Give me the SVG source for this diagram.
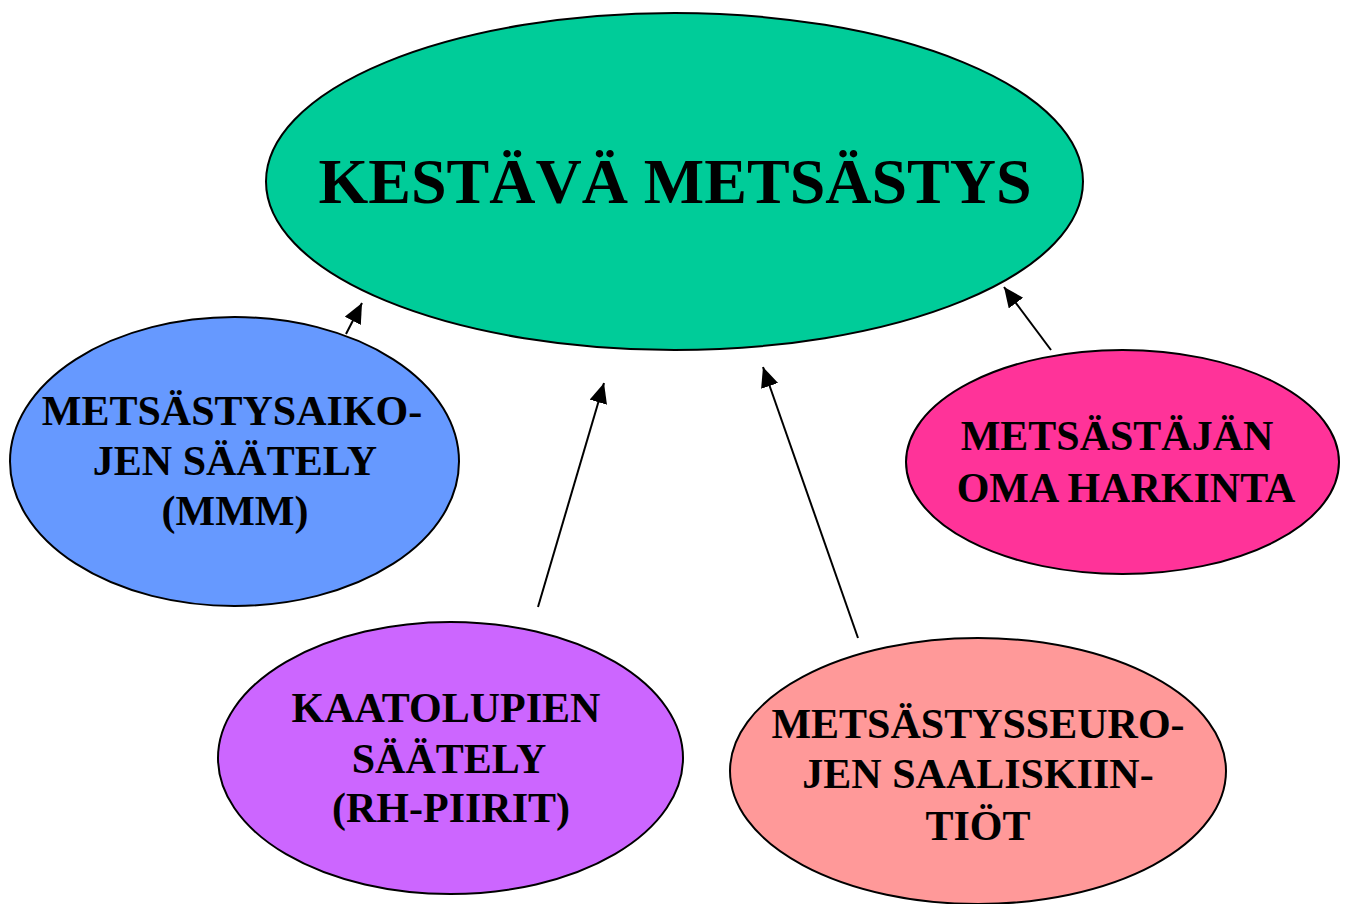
<svg xmlns="http://www.w3.org/2000/svg" width="1346" height="904" viewBox="0 0 1346 904">
<style>
.n{stroke:#000;stroke-width:2}
.t{font-family:"Liberation Serif","Times New Roman",serif;font-weight:bold;font-size:42px;fill:#000;text-anchor:middle}
.big{font-size:64px}
.c{stroke:#000;stroke-width:2;fill:none;marker-end:url(#ah)}
</style>
<defs>
<marker id="ah" markerUnits="userSpaceOnUse" markerWidth="22" markerHeight="20" refX="20" refY="9" orient="auto">
<path d="M0,0 L20,9 L0,18 Z" fill="#000"/>
</marker>
</defs>
<rect width="1346" height="904" fill="#fff"/>
<g id="main">
<ellipse class="n" cx="674.5" cy="181.5" rx="408.5" ry="168.5" fill="#00CC99"/>
<text class="t big" x="675" y="203">KESTÄVÄ METSÄSTYS</text>
</g>
<g id="mmm">
<ellipse class="n" cx="234.5" cy="461.5" rx="224.5" ry="144.5" fill="#6699FF"/>
<text class="t" x="232" y="425">METSÄSTYSAIKO-</text>
<text class="t" x="235" y="475">JEN SÄÄTELY</text>
<text class="t" x="235" y="525">(MMM)</text>
</g>
<g id="rh">
<ellipse class="n" cx="450.5" cy="758" rx="232.5" ry="136" fill="#CC66FF"/>
<text class="t" x="446" y="722">KAATOLUPIEN</text>
<text class="t" x="449" y="773">SÄÄTELY</text>
<text class="t" x="451" y="822">(RH-PIIRIT)</text>
</g>
<g id="oma">
<ellipse class="n" cx="1122.5" cy="462" rx="216.5" ry="112" fill="#FF3399"/>
<text class="t" x="1117" y="450">METSÄSTÄJÄN</text>
<text class="t" x="1126" y="502">OMA HARKINTA</text>
</g>
<g id="seura">
<ellipse class="n" cx="978" cy="771" rx="248" ry="133" fill="#FF9999"/>
<text class="t" x="978" y="738">METSÄSTYSSEURO-</text>
<text class="t" x="978" y="788">JEN SAALISKIIN-</text>
<text class="t" x="978" y="840">TIÖT</text>
</g>
<g id="connectors">
<line class="c" x1="346" y1="334" x2="362" y2="303"/>
<line class="c" x1="538" y1="607" x2="604" y2="383"/>
<line class="c" x1="858" y1="638" x2="763" y2="367"/>
<line class="c" x1="1051" y1="350" x2="1004" y2="287"/>
</g>
</svg>
